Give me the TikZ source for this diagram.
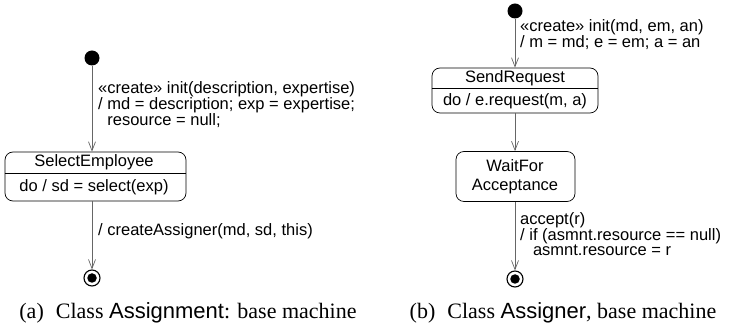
\documentclass[tikz,border=0pt]{standalone}
\usepackage{fontspec}
\setmainfont{Liberation Serif}
\setsansfont{Liberation Sans}
\usetikzlibrary{arrows.meta}

\begin{document}
\begin{tikzpicture}[x=1pt,y=-1pt,
  txt/.style={font=\sffamily\fontsize{16.5}{14.5}\selectfont, inner sep=0pt},
  lbl/.style={txt, align=left, anchor=north west},
  initdot/.style={circle, fill=black, minimum size=15pt, inner sep=0pt},
  finalring/.style={circle, draw=black, line width=1.1pt, minimum size=16pt, inner sep=0pt},
  finaldot/.style={circle, fill=black, minimum size=9.5pt, inner sep=0pt},
  statebox/.style={draw=black, line width=0.7pt, rounded corners=8pt, inner sep=0pt},
  trans/.style={draw=black!60, line width=0.9pt,
    -{Straight Barb[length=9pt,width=7pt,line width=0.7pt]}},
  caption/.style={font=\rmfamily\fontsize{22}{24}\selectfont, inner sep=0pt}
]
\useasboundingbox (0,0) rectangle (731,328);

% ---- (a) Assignment ----
\node[initdot] (i1) at (92,58) {};
\node[statebox, minimum width=181pt, minimum height=49pt] (s1) at (95.5,176.5) {};
\draw[line width=0.7pt] (s1.west |- 0,173) coordinate (d1a) -- (s1.east |- 0,173) coordinate (d1b);
\node[txt] (s1name) at (94,162.5) {SelectEmployee};
\node[txt] (s1do) at (94,187.5) {do / sd = select(exp)};
\node[finalring] (f1) at (92,278) {};
\node[finaldot] (f1c) at (f1) {};

\draw[trans] (i1) -- (i1 |- s1.north);
\draw[trans] (i1 |- s1.south) -- (f1.north);

\node[lbl] (l1) at (98,81) {«create» init(description, expertise)\\
  / md = description; exp = expertise;\\
  \hphantom{/ }resource = null;};
\node[lbl] (l2) at (98,223) {/ createAssigner(md, sd, this)};

\node[caption] (c1) at (188,313) {(a)\hspace{0.55em}Class \textsf{Assignment}: base machine};

% ---- (b) Assigner ----
\node[initdot] (i2) at (515,11) {};
\node[statebox, minimum width=166pt, minimum height=45pt] (s2) at (515,90.5) {};
\draw[line width=0.7pt] (s2.west |- 0,88) coordinate (d2a) -- (s2.east |- 0,88) coordinate (d2b);
\node[txt] (s2name) at (515,78) {SendRequest};
\node[txt] (s2do) at (515,101) {do / e.request(m, a)};
\node[statebox, minimum width=119pt, minimum height=50pt] (s3) at (515.5,176.5) {};
\node[txt, align=center, font=\sffamily\fontsize{16.5}{18.5}\selectfont] (s3name) at (515,176.5) {WaitFor\\Acceptance};
\node[finalring] (f2) at (515,279) {};
\node[finaldot] (f2c) at (f2) {};

\draw[trans] (i2) -- (i2 |- s2.north);
\draw[trans] (i2 |- s2.south) -- (i2 |- s3.north);
\draw[trans] (i2 |- s3.south) -- (f2.north);

\node[lbl] (l3) at (520,19) {«create» init(md, em, an)\\
  / m = md; e = em; a = an};
\node[lbl] (l4) at (520,212) {accept(r)\\
  / if (asmnt.resource == null)\\
  \hphantom{/ i}asmnt.resource = r};

\node[caption] (c2) at (563,313) {(b)\hspace{0.55em}Class \textsf{Assigner}, base machine};
\end{tikzpicture}
\end{document}
